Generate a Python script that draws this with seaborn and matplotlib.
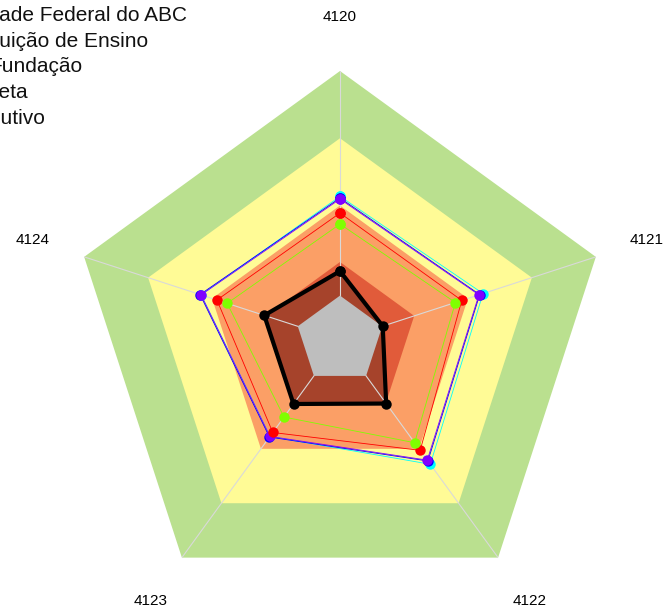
import numpy as np
import pandas as pd
import matplotlib
matplotlib.use("Agg")
import matplotlib.pyplot as plt
import seaborn as sns

# axes of the radar
categories = ["4120", "4121", "4122", "4123", "4124"]

# background bands (outer -> inner)
band_levels = [100, 75, 50, 29, 16.5]
band_colors = ["#BAE08F", "#FFFB96", "#FB9F66", "#E15B3A", "#BEBEBE"]

# series, in drawing order
cyan_vals = [53.4, 55.9, 57.1, 44.3, 54.3]
blue_vals = [52.8, 54.6, 55.6, 44.6, 54.7]
purple_vals = [52.4, 54.3, 55.2, 44.3, 54.3]
red_vals = [47.2, 47.6, 50.7, 42.5, 48.1]
green_vals = [43.1, 45.1, 47.2, 35.4, 44.1]
exec_vals = [25.6, 16.7, 29.2, 29.4, 29.6]

series_names = ["cyan", "blue", "purple", "red", "green", "exec"]
series_vals = [cyan_vals, blue_vals, purple_vals, red_vals, green_vals, exec_vals]
series_colors = ["#00FFFF", "#0000FF", "#8000FF", "#FF0000", "#80FF00", "#000000"]
series_lw = [0.6, 0.6, 0.6, 0.6, 0.6, 3.0]

legend_labels = ["Universidade Federal do ABC", "Instituição de Ensino",
                 "Fundação", "Meta", "Executivo"]

sns.set_theme(style="white")
plt.rcParams["font.family"] = ["Liberation Sans", "DejaVu Sans"]

n = len(categories)
angles = np.linspace(0, 2 * np.pi, n, endpoint=False)
closed = np.concatenate([angles, angles[:1]])

fig = plt.figure(figsize=(6.64, 6.10), dpi=100)
ax = fig.add_axes([71 / 664, 1 / 610, 538 / 664, 538 / 610], projection="polar")
ax.set_theta_offset(np.pi / 2)
ax.set_theta_direction(-1)
ax.set_ylim(0, 100)
ax.grid(False)
ax.spines["polar"].set_visible(False)
ax.patch.set_visible(False)
ax.set_xticks([])
ax.set_yticks([])

# bands
for lvl, col in zip(band_levels[:-1], band_colors[:-1]):
    ax.fill(closed, [lvl] * (n + 1), color=col, lw=0, zorder=1)

# executivo area (dark shade over the red band)
ax.fill(closed, exec_vals + exec_vals[:1], color="black", alpha=0.26, lw=0, zorder=2)

# spokes
for a in angles:
    ax.plot([a, a], [0, 100], color="#D9D9D9", lw=0.8, zorder=3)

# inner grey pentagon
ax.fill(closed, [band_levels[-1]] * (n + 1), color=band_colors[-1], lw=0, zorder=4)

# series
rows = []
for name, vals in zip(series_names, series_vals):
    for a, v in zip(closed, vals + vals[:1]):
        rows.append({"serie": name, "theta": a, "valor": v})
df = pd.DataFrame(rows)

for name, col, lw in zip(series_names, series_colors, series_lw):
    sub = df[df["serie"] == name]
    sns.lineplot(data=sub, x="theta", y="valor", color=col, lw=lw, sort=False,
                 estimator=None, marker="o", markersize=7.5, markeredgewidth=0,
                 ax=ax, zorder=5, legend=False)
ax.set_xlabel("")
ax.set_ylabel("")

for a, lab in zip(angles, categories):
    ax.text(a, 120, lab, ha="center", va="center", fontsize=11, color="black",
            clip_on=False)

# legend text (clipped at the left edge)
leg_x = [-88, -45, -11, -19, -46]
leg_y = [21, 47, 72, 98, 124]
for lab, x, y in zip(legend_labels, leg_x, leg_y):
    fig.text(x / 664, 1 - y / 610, lab, ha="left", va="baseline", fontsize=15,
             color="#111111")

fig.savefig("out.png", dpi=100)
